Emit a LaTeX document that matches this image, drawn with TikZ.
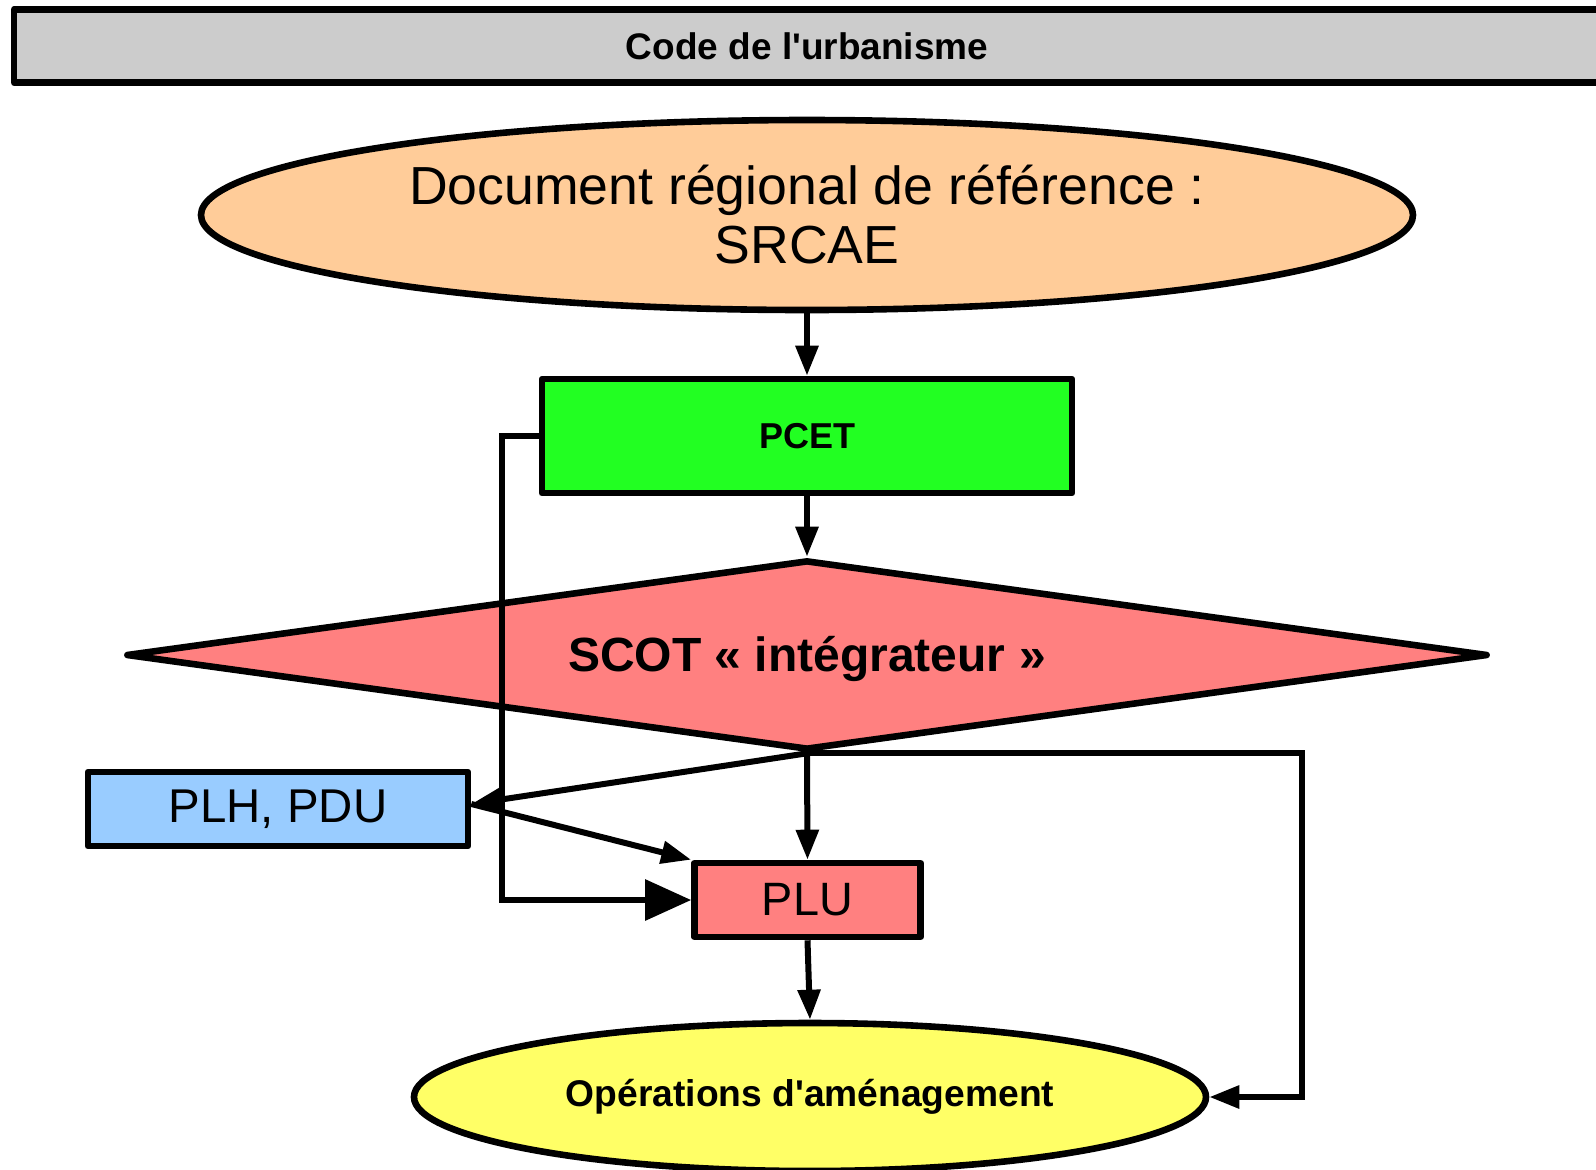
\documentclass[tikz,border=0pt]{standalone}
\usepackage{fontspec}
\setmainfont{Liberation Sans}
\usetikzlibrary{shapes.geometric,arrows.meta,calc}
\definecolor{bandgray}{HTML}{CCCCCC}
\definecolor{srcaecol}{HTML}{FFCC99}
\definecolor{pcetcol}{HTML}{22FF22}
\definecolor{scotcol}{HTML}{FF8080}
\definecolor{plhcol}{HTML}{99CCFF}
\definecolor{operacol}{HTML}{FFFF66}
\tikzset{
  shapebox/.style={draw=black, line width=3.3pt, line join=round, inner sep=0pt, align=center, text=black},
  conn/.style={draw=black, line width=3pt, -{Triangle[length=15pt,width=11pt]}},
  bigtip/.style={-{Triangle[length=23pt,width=20pt]}}
}
\begin{document}
\begin{tikzpicture}[x=0.5pt,y=-0.5pt]
\useasboundingbox (0,0) rectangle (1596,1169);
% band
\node[shapebox, fill=bandgray, minimum width=793pt, minimum height=36.5pt,
      font=\fontsize{18.5pt}{22pt}\selectfont\bfseries] (band) at (807,46) {Code de l\textquotesingle urbanisme};
% SRCAE ellipse
\node[shapebox, ellipse, fill=srcaecol, minimum width=606pt, minimum height=95pt,
      font=\fontsize{26.8pt}{29.5pt}\selectfont] (srcae) at (807,215) {Document régional de référence :\\SRCAE};
% PCET
\node[shapebox, rectangle, fill=pcetcol, minimum width=265pt, minimum height=57pt,
      font=\fontsize{18pt}{21pt}\selectfont\bfseries] (pcet) at (807,436) {PCET};
% SCOT diamond
\node[shapebox, diamond, aspect=7.3, fill=scotcol, minimum width=681pt, minimum height=95pt,
      font=\fontsize{24pt}{28pt}\selectfont\bfseries] (scot) at (807,655) {};
\node[font=\fontsize{24pt}{28pt}\selectfont\bfseries, inner sep=0pt] (scottext) at (807,659) {SCOT « intégrateur »};
% PLH, PDU
\node[shapebox, rectangle, fill=plhcol, minimum width=190pt, minimum height=37pt,
      font=\fontsize{23.7pt}{27pt}\selectfont] (plh) at (278,809) {PLH, PDU};
% PLU
\node[shapebox, rectangle, fill=scotcol, minimum width=113pt, minimum height=37pt,
      font=\fontsize{23.4pt}{27pt}\selectfont] (plu) at (807.5,900) {PLU};
% Operations
\node[shapebox, ellipse, fill=operacol, minimum width=396pt, minimum height=74pt,
      font=\fontsize{18.6pt}{22pt}\selectfont\bfseries] (opera) at (810,1097) {Opérations d\textquotesingle aménagement};
% connectors
\coordinate (lturn) at (502,436);
\coordinate (rline) at (1302,0);
\coordinate (plhin) at ($(plh.east)+(0,-5)$);
\draw[conn] (srcae) -- (pcet);
\draw[conn] (pcet) -- (scot);
\draw[conn,bigtip] (pcet.west) -- (lturn) |- (plu.west);
\draw[conn] (scot.south) -- (plu.north);
\draw[conn] (scot.south) -- (plhin);
\draw[conn] (plhin) -- (plu.north west);
\draw[conn] (scot.south) -- (scot.south -| rline) |- (opera.east);
\draw[conn] (plu.south) -- (opera.north);
\end{tikzpicture}
\end{document}
